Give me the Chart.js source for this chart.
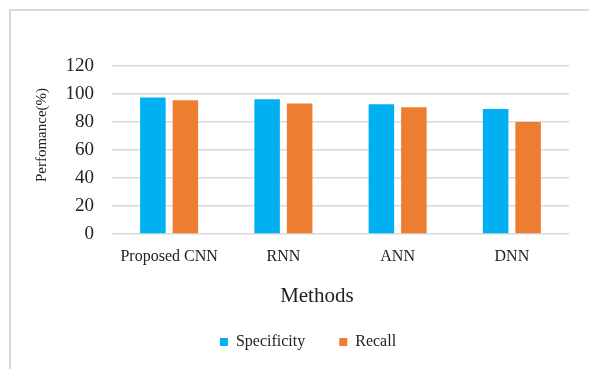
<!DOCTYPE html>
<html><head><meta charset="utf-8">
<script src="https://cdn.jsdelivr.net/npm/chart.js@4"></script>
<style>
html,body{margin:0;padding:0;background:#fff;overflow:hidden;}
#wrap{position:relative;width:589px;height:369px;overflow:hidden;}
#frame{position:absolute;left:9px;top:9px;width:600px;height:400px;border-left:2px solid #d9d9d9;border-top:2px solid #d9d9d9;pointer-events:none;}
canvas{position:absolute;left:0;top:0;}
</style></head><body>
<div id="wrap"><canvas id="c" width="589" height="369"></canvas><div id="frame"></div></div>
<script>
const categories = ['Proposed CNN', 'RNN', 'ANN', 'DNN'];
const specificity = [97.5, 96.3, 92.7, 89.2];
const recall = [95.6, 93.2, 90.6, 80];
const seriesNames = ['Specificity', 'Recall'];
const yMin = 0, yMax = 120, yStep = 20;
const xTitle = 'Methods';
const yTitle = 'Perfomance(%)';

const FONT = 'Liberation Serif';
const TXT = '#222222';
const GRID = '#d9d9d9';

new Chart(document.getElementById('c'), {
  type: 'bar',
  data: {
    labels: categories,
    datasets: [
      { label: seriesNames[0], data: specificity, backgroundColor: '#00B0F0', yAxisID: 'y' },
      { label: seriesNames[1], data: recall, backgroundColor: '#ED7D31', yAxisID: 'y' }
    ]
  },
  options: {
    responsive: false,
    animation: false,
    devicePixelRatio: 1,
    categoryPercentage: 0.569,
    barPercentage: 0.785,
    layout: { padding: { left: 27, right: 0, top: 66, bottom: 9 } },
    plugins: {
      tooltip: { enabled: false },
      legend: {
        position: 'bottom',
        labels: {
          boxWidth: 8, boxHeight: 8, padding: 34,
          color: TXT, font: { family: FONT, size: 16 }
        }
      }
    },
    scales: {
      x: {
        grid: { display: false, drawTicks: false },
        border: { display: false },
        ticks: { color: TXT, font: { family: FONT, size: 16 }, padding: 13, maxRotation: 0, autoSkip: false },
        title: {
          display: true, text: xTitle + '\u00a0'.repeat(9), color: TXT,
          font: { family: FONT, size: 21 }, padding: { top: -9, bottom: -9 }
        },
        afterFit(s) { s.height = 66; }
      },
      y: {
        min: yMin, max: yMax,
        ticks: { stepSize: yStep, color: TXT, font: { family: FONT, size: 19 }, padding: 18, autoSkip: false },
        grid: { color: GRID, lineWidth: 1.5, drawTicks: false },
        border: { display: false },
        title: {
          display: true, text: '\u00a0'.repeat(8) + yTitle, color: TXT,
          font: { family: FONT, size: 15 }, padding: { top: 6, bottom: 6 }
        },
        afterFit(s) { s.width = 85; }
      },
      yRight: {
        position: 'right',
        display: true,
        grid: { display: false },
        border: { display: false },
        ticks: { display: false },
        afterFit(s) { s.width = 20; }
      }
    }
  }
});
</script>
</body></html>
